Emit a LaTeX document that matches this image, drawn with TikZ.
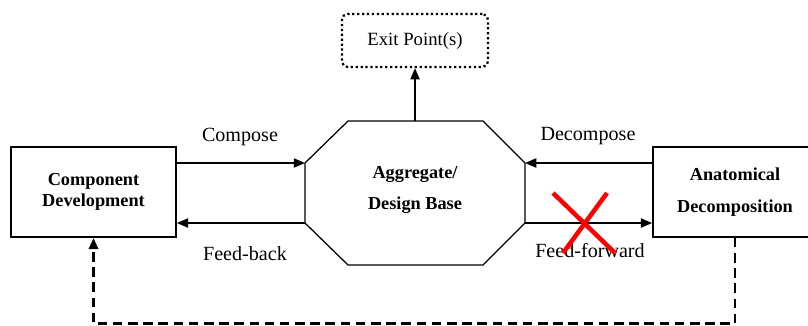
\documentclass[tikz,border=0pt]{standalone}
\usepackage{fontspec}
\setmainfont{Liberation Serif}
\usetikzlibrary{arrows.meta}

\tikzset{
  blockbox/.style={draw, line width=1.2pt, align=center, inner sep=0pt,
    minimum height=2.25cm, font=\fontsize{13}{22.7}\selectfont\bfseries},
  exitbox/.style={draw, line width=1.6pt, dash pattern=on 1.6pt off 1.9pt,
    rounded corners=4pt, minimum width=3.65cm, minimum height=1.325cm,
    inner sep=0pt, font=\fontsize{13.3}{15}\selectfont},
  octa/.style={line width=0.9pt, line join=miter},
  flow/.style={line width=1.2pt, -{Triangle[length=8pt,width=6.5pt]}},
  feedline/.style={line width=2pt, dash pattern=on 6.8pt off 4pt,
    -{Triangle[length=8pt,width=6.5pt]}},
  lbl/.style={font=\fontsize{14.3}{16}\selectfont, inner sep=0pt},
}

\begin{document}
\begin{tikzpicture}[x=0.025cm, y=-0.025cm]

	\useasboundingbox (0,0) rectangle (808,325);
	\clip (0,0) rectangle (808,325);

	% the three boxes
	\node[blockbox, minimum width=4.125cm, font=\fontsize{13}{15}\selectfont\bfseries]
	    (cd) at (93.5,192) {Component\\Development};
	\node[blockbox, minimum width=4.1cm] (ad) at (735,192) {Anatomical\\Decomposition};
	\node[exitbox] (exit) at (415,40.5) {Exit Point(s)};

	% aggregate octagon
	\node[blockbox, draw=none, minimum height=0pt] (agg) at (415,190) {Aggregate/\\Design Base};
	\draw[octa] (348,121) -- (483,121) -- (525,163) coordinate (o3)
	    -- (525,223) coordinate (o4) -- (483,265) -- (348,265)
	    -- (305,223) coordinate (o7) -- (305,163) coordinate (o8) -- cycle;
	\coordinate (otop) at (415,121);

	% flows
	\draw[flow] (cd.east |- o8) -- (o8);
	\draw[flow] (o7) -- (cd.east |- o7);
	\draw[flow] (ad.west |- o3) -- (o3);
	\draw[flow] (o4) -- (ad.west |- o4);
	\draw[flow] (otop) -- (exit.south);

	\node[lbl] (compose) at (240,137) {Compose};
	\node[lbl] (feedback) at (245,254) {Feed-back};
	\node[lbl] (decompose) at (588,136) {Decompose};
	\node[lbl] (feedfwd) at (590,251) {Feed-forward};

	% crossed out
	\coordinate (xmark) at (585,223);
	\draw[red, line width=3.2pt] (553,193) -- (615,253);
	\draw[red, line width=3.2pt] (607,193) -- (563,253);

	% loop back underneath
	\draw[feedline] (ad.south) -- ++(0,86) -| (cd.south);

\end{tikzpicture}
\end{document}
